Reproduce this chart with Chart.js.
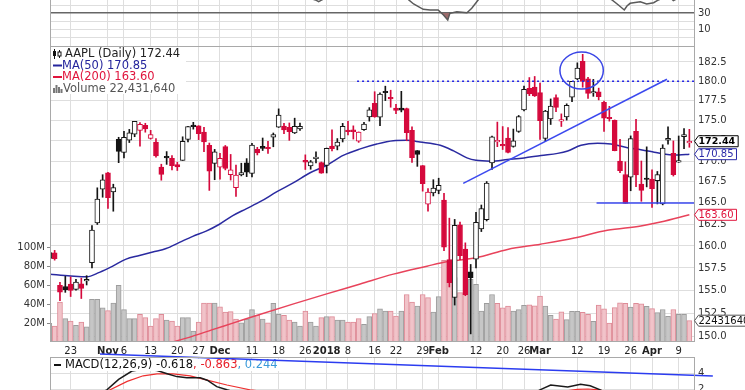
<!DOCTYPE html>
<html>
<head>
<meta charset="utf-8">
<script src="https://cdn.jsdelivr.net/npm/chart.js@4.4.1/dist/chart.umd.min.js"></script>
<style>
  html, body { margin: 0; padding: 0; background: #fff; }
  #wrap { position: relative; width: 745px; height: 390px; overflow: hidden; background: #fff; }
  #wrap canvas { position: absolute; left: 0; }
</style>
</head>
<body>
<div id="wrap">
  <canvas id="rsiChart" width="745" height="46" style="top:0"></canvas>
  <canvas id="priceChart" width="745" height="311" style="top:46px"></canvas>
  <canvas id="macdChart" width="745" height="48" style="top:342px"></canvas>
</div>
<script>
// trading days shown (Oct 17 2017 - Apr 11 2018)
const dates = [
  '2017-10-17','2017-10-18','2017-10-19','2017-10-20','2017-10-23','2017-10-24','2017-10-25','2017-10-26','2017-10-27','2017-10-30','2017-10-31',
  '2017-11-01','2017-11-02','2017-11-03','2017-11-06','2017-11-07','2017-11-08','2017-11-09','2017-11-10','2017-11-13','2017-11-14','2017-11-15',
  '2017-11-16','2017-11-17','2017-11-20','2017-11-21','2017-11-22','2017-11-24','2017-11-27','2017-11-28','2017-11-29','2017-11-30',
  '2017-12-01','2017-12-04','2017-12-05','2017-12-06','2017-12-07','2017-12-08','2017-12-11','2017-12-12','2017-12-13','2017-12-14','2017-12-15',
  '2017-12-18','2017-12-19','2017-12-20','2017-12-21','2017-12-22','2017-12-26','2017-12-27','2017-12-28','2017-12-29',
  '2018-01-02','2018-01-03','2018-01-04','2018-01-05','2018-01-08','2018-01-09','2018-01-10','2018-01-11','2018-01-12','2018-01-16','2018-01-17',
  '2018-01-18','2018-01-19','2018-01-22','2018-01-23','2018-01-24','2018-01-25','2018-01-26','2018-01-29','2018-01-30','2018-01-31',
  '2018-02-01','2018-02-02','2018-02-05','2018-02-06','2018-02-07','2018-02-08','2018-02-09','2018-02-12','2018-02-13','2018-02-14','2018-02-15',
  '2018-02-16','2018-02-20','2018-02-21','2018-02-22','2018-02-23','2018-02-26','2018-02-27','2018-02-28',
  '2018-03-01','2018-03-02','2018-03-05','2018-03-06','2018-03-07','2018-03-08','2018-03-09','2018-03-12','2018-03-13','2018-03-14','2018-03-15',
  '2018-03-16','2018-03-19','2018-03-20','2018-03-21','2018-03-22','2018-03-23','2018-03-26','2018-03-27','2018-03-28','2018-03-29',
  '2018-04-02','2018-04-03','2018-04-04','2018-04-05','2018-04-06','2018-04-09','2018-04-10','2018-04-11'
];

const opens = [
  158.56,159.20,155.56,155.42,155.69,155.10,155.71,156.03,158.08,162.64,166.62,168.58,166.30,172.67,171.06,172.58,173.33,173.78,174.40,172.80,
  172.34,169.28,170.49,170.35,169.60,170.09,172.66,174.39,174.34,173.59,171.93,169.74,169.26,171.78,168.37,166.82,168.34,169.80,168.51,171.45,
  171.80,171.70,172.93,174.17,174.32,174.16,173.46,173.97,170.11,169.41,170.31,169.83,169.47,171.83,171.84,172.74,173.64,173.84,172.46,173.88,
  175.46,177.18,175.43,178.64,177.88,176.58,176.58,176.53,173.80,171.30,169.47,164.86,166.19,166.49,165.33,158.45,154.20,162.43,159.64,157.07,
  158.50,161.95,163.04,169.79,172.36,172.05,172.83,171.80,173.67,176.35,179.10,179.26,178.54,172.80,175.21,177.91,174.94,175.48,177.96,180.29,
  182.59,180.32,178.50,178.65,177.32,175.24,175.04,170.00,168.39,168.07,173.68,167.25,167.81,167.85,167.64,164.88,172.58,170.97,169.88,173.00,
  172.23
];
const highs = [
  159.64,159.49,155.88,156.55,156.49,156.22,156.35,156.63,162.35,166.79,168.36,168.65,167.22,172.93,173.66,173.91,174.90,174.76,174.67,173.79,
  172.78,169.63,171.17,170.69,169.87,172.99,174.29,174.79,174.37,174.16,172.22,171.44,170.97,171.92,170.82,169.51,169.75,170.31,172.19,171.69,
  172.84,172.43,173.46,176.48,174.68,174.71,175.31,174.71,170.77,170.09,171.15,169.90,171.60,173.84,172.77,174.66,174.90,174.35,173.59,174.78,
  176.64,178.66,178.52,179.37,178.85,177.06,178.71,176.58,174.24,171.30,169.47,166.69,167.76,167.94,166.12,163.21,163.06,162.74,160.35,157.89,
  163.89,164.75,167.54,173.09,174.82,174.26,174.12,173.95,175.65,179.39,180.48,180.62,179.78,176.30,177.74,178.25,175.85,177.12,180.00,182.39,
  183.50,180.52,180.24,179.12,177.47,176.80,175.09,172.68,169.92,173.10,175.15,170.02,171.75,168.94,168.75,172.01,174.23,172.48,173.09,174.00,
  173.92
];
const lows = [
  158.02,158.38,153.84,154.77,154.31,155.01,154.09,155.59,157.49,162.47,165.67,164.35,164.02,169.82,170.41,172.28,173.00,171.82,173.56,172.70,
  170.49,167.70,169.61,168.95,168.87,170.09,172.35,173.94,172.64,171.16,166.48,167.76,167.82,168.94,167.72,165.78,168.22,168.13,168.10,170.76,
  171.30,170.95,171.76,174.15,173.38,172.55,173.39,173.79,168.99,169.02,169.79,168.53,168.57,171.26,171.38,172.35,173.22,172.71,172.30,173.78,
  174.94,175.42,174.36,177.53,176.69,175.88,176.10,172.50,169.84,169.37,166.39,164.03,165.82,166.08,159.45,155.37,153.37,158.42,154.40,150.24,
  157.51,161.65,162.88,169.00,171.77,171.42,171.01,171.71,173.54,176.21,178.16,178.05,172.66,172.45,174.52,176.13,174.27,175.07,177.39,180.21,
  179.24,177.81,178.07,177.62,173.66,174.94,171.26,168.60,164.94,166.44,166.92,165.19,166.90,164.47,164.88,164.77,172.08,168.20,169.85,171.53,
  171.70
];
const closes = [
  159.25,158.54,154.79,155.06,154.98,155.90,155.22,156.21,161.81,165.45,167.75,165.62,166.83,171.19,172.92,173.48,174.90,174.54,173.96,173.26,
  170.64,168.39,170.41,169.46,169.29,172.44,174.25,174.26,173.38,172.37,168.79,171.15,170.36,169.11,168.95,168.32,168.63,168.68,171.97,171.00,
  171.57,171.52,173.26,175.70,173.83,173.64,174.30,174.30,169.88,169.91,170.39,168.54,171.56,171.53,172.33,174.29,173.64,173.62,173.58,174.57,
  176.37,175.47,178.37,178.53,177.74,176.28,176.32,173.51,170.42,170.81,167.28,166.29,166.75,167.10,159.85,155.85,162.37,158.89,154.52,156.41,
  162.71,164.34,167.37,172.99,172.43,171.85,171.07,172.50,175.50,178.97,178.39,178.12,175.00,176.21,176.82,176.67,175.03,176.94,179.98,181.72,
  179.97,178.44,178.65,178.02,175.30,175.24,171.27,168.85,164.94,172.77,168.34,166.48,167.78,166.68,168.39,171.61,172.80,168.38,170.05,173.25,
  172.44
];
const prevClose = 158.66;

// volume in millions of shares
const volumes = [
  19.6,16.8,42.0,24.6,22.0,17.5,21.0,16.0,45.0,45.0,36.0,33.0,41.0,59.7,34.0,24.6,24.6,29.0,25.6,16.8,
  24.6,29.0,23.0,22.0,16.8,25.6,25.6,11.6,21.0,41.0,41.0,41.0,37.0,31.6,32.0,24.0,20.3,24.0,34.0,28.0,
  24.0,20.3,40.7,29.0,28.0,23.0,21.0,16.8,32.6,21.0,16.8,25.6,26.7,26.7,23.0,23.0,21.0,21.0,24.6,18.6,
  26.7,30.0,35.0,32.6,32.6,27.4,32.6,50.0,42.0,37.9,50.0,46.7,31.6,47.7,86.0,86.0,67.7,52.0,52.0,66.0,
  60.7,32.6,40.7,50.0,40.7,36.0,37.9,32.6,34.0,38.6,39.0,38.0,48.4,37.9,28.2,24.0,31.8,23.5,32.2,32.2,
  31.2,29.2,21.8,38.8,34.8,20.0,36.2,41.2,40.8,36.8,40.7,40.2,37.5,35.2,30.9,34.2,27.0,34.2,29.2,29.2,
  22.43
];
const lastVolume = 22431640;

// moving averages: [bar index, price]
const ma50 = [
  [0,156.8],[4,156.6],[7,156.5],[9.4,157.0],[11.9,157.7],[14.4,158.5],[16.9,158.9],[19.4,159.3],[21.9,159.7],[24.4,160.4],
  [26.9,161.1],[29.4,161.7],[31.9,162.5],[34.4,163.5],[36.9,164.3],[39.7,165.2],[42.6,166.3],[45.8,167.4],[48.9,168.6],[52,169.5],
  [55.1,170.7],[58.3,171.5],[61.4,172.1],[64.5,172.5],[67,172.55],[69.5,172.35],[73.3,171.95],[75.8,171.25],[78.3,170.4],[80,170.1],
  [82.8,170.0],[85.9,170.2],[89,170.4],[92.2,170.7],[95.3,170.95],[97.2,171.25],[99.7,171.95],[102.8,172.2],[105.3,172.1],[108.4,171.65],
  [110.9,171.4],[113.4,171.1],[115.9,170.8],[118,170.75],[120,170.85]
];
const ma200 = [
  [20,148.8],[23.4,149.4],[26.9,150.0],[30.6,150.7],[34.4,151.4],[38.1,152.1],[45.8,153.5],[52,154.6],[58.3,155.7],[64.5,156.8],
  [70.8,157.7],[74.5,158.2],[80,158.65],[85.9,159.6],[92.1,160.2],[98.4,160.9],[104.6,161.8],[110.9,162.3],[114.6,162.75],[120,163.6]
];
const rsi = [
  [0,50],[4,49],[8,64],[10,70],[14,76],[18,70],[21,57],[25,62],[28,62],[30,53],[33,50],[36,49],[38,57],[43,64],[46,60],[48,50],
  [49.9,46.3],[50.5,44.2],[51.1,46.3],[53,54],[56,56],[60,64],[63,68],[65,60],[66.5,52],[67.4,46.3],[68.3,41.3],[70.1,34.6],
  [71.4,33.8],[72.9,33.8],[73.9,27.5],[74.7,21.3],[75.1,29.6],[76.4,31.6],[78.3,30.4],[79.2,35.9],[80.4,46.3],[82,56],[85,58],
  [89,66],[92,58],[95,60],[99,68],[101,62],[104,52],[105.5,46.3],[106.7,40],[107.8,33.8],[108.3,38.8],[108.9,42.1],[110.8,44.1],
  [112,41.3],[113.3,42.9],[114.2,46.3],[116,52],[117,45.5],[118,49],[120,53]
];
const macdLine = [
  [0,0.6],[5,0.3],[8,0.9],[10.8,1.9],[13,3.2],[15.5,4.25],[17.8,4.5],[20.2,4.3],[22.1,3.9],[23.9,3.55],[25.8,3.4],[28.3,3.4],
  [29.6,3.1],[31.4,2.3],[33.3,1.9],[36,1.4],[42,1.1],[50,0.6],[58,1.2],[64,1.7],[70,0.4],[76,-2.6],[80,-3.4],[86,-0.5],[92,1.9],
  [94,2.5],[97.2,2.25],[99.6,2.6],[101.4,2.4],[103.3,1.9],[107,0.4],[112,-1.3],[116,-1.1],[120,-0.618]
];
const macdSignal = [
  [0,0.4],[8,0.5],[11.4,1.9],[14.6,2.95],[17.6,3.65],[20.2,3.9],[23.2,3.9],[26.4,3.65],[29.6,3.1],[33.3,2.5],[37.6,1.9],[45,1.3],
  [55,1.0],[65,1.4],[72,0.8],[80,-1.9],[88,-0.8],[95,1.6],[99,1.95],[101,2.0],[103,1.9],[108,1.2],[114,-0.2],[120,-0.863]
];
const macdHist = 0.244;

// drawn annotations: [bar index, value]
const trendUp = [[77.6,167.33],[115.8,180.26]];
const support = [[102.6,165],[121.5,165]];
const resistance = [[57.7,180],[121.5,180]];
const macdTrend = [[9.5,6.375],[124.4,3.625]];
const circleCenter = 99.8, circleHalfBars = 4.07, circleSpan = [179.0, 183.8];

const tickDates = ['2017-10-23','2017-11-01','2017-11-06','2017-11-13','2017-11-20','2017-11-27','2017-12-01','2017-12-11','2017-12-18',
  '2017-12-26','2018-01-02','2018-01-08','2018-01-16','2018-01-22','2018-01-29','2018-02-01','2018-02-12','2018-02-20','2018-02-26',
  '2018-03-01','2018-03-12','2018-03-19','2018-03-26','2018-04-02','2018-04-09'];
const tickText = ['23','Nov','6','13','20','27','Dec','11','18','26','2018','8','16','22','29','Feb','12','20','26','Mar','12','19','26','Apr','9'];
const monthTicks = ['Nov','Dec','2018','Feb','Mar','Apr'];
const priceTicks = [150,152.5,155,157.5,160,162.5,165,167.5,170,172.5,175,177.5,180,182.5];
const volumeTicks = [20,40,60,80,100];
const rsiTicks = [0,10,20,30,40];
const macdTicks = [2,4];

Chart.defaults.font.family = "'DejaVu Sans', sans-serif";
Chart.defaults.animation = false;

const RED = '#d5093c', BLACK = '#141414', GRID = '#dedede', FRAME = '#a9a9a9';
const FONT = '11.5px "DejaVu Sans"';
const isDown = closes.map((c, i) => c < (i ? closes[i - 1] : prevClose));
const candleColor = isDown.map(d => d ? RED : BLACK);
const bodyFill = closes.map((c, i) => c > opens[i] ? '#ffffff' : candleColor[i]);
const tickIdx = tickDates.map(d => dates.indexOf(d));
const pts = arr => arr.map(([x, y]) => ({ x, y }));

function xAxis(showLabels) {
  return {
    type: 'linear', min: 0.13, max: 120.87, offset: false,
    afterBuildTicks: ax => { ax.ticks = tickIdx.map(v => ({ value: v })); },
    afterFit: ax => { ax.height = showLabels ? 15 : 0; ax.paddingLeft = 0; ax.paddingRight = 0; },
    grid: { color: GRID, drawTicks: false, offset: false },
    border: { display: false },
    ticks: {
      display: showLabels, autoSkip: false, maxRotation: 0, padding: 3, color: '#222',
      font: c => ({ size: 10, weight: monthTicks.includes(tickText[c.index]) ? 'bold' : 'normal' }),
      callback: (v, i) => tickText[i]
    }
  };
}

function rightAxis(extra) {
  return Object.assign({
    position: 'right',
    afterFit: ax => { ax.width = 51; ax.paddingTop = 0; ax.paddingBottom = 0; },
    grid: { color: GRID, drawTicks: false },
    border: { display: false }
  }, extra);
}

function frame(sides) {
  return {
    id: 'frame',
    afterDraw(chart) {
      const a = chart.chartArea, c = chart.ctx;
      c.save();
      c.strokeStyle = FRAME; c.lineWidth = 1;
      c.beginPath();
      if (sides.includes('t')) { c.moveTo(a.left, a.top + 0.5); c.lineTo(a.right + 1, a.top + 0.5); }
      if (sides.includes('b')) { c.moveTo(a.left, a.bottom - 0.5); c.lineTo(a.right + 1, a.bottom - 0.5); }
      c.moveTo(a.left + 0.5, a.top); c.lineTo(a.left + 0.5, a.bottom);
      c.moveTo(a.right + 0.5, a.top); c.lineTo(a.right + 0.5, a.bottom);
      c.stroke();
      c.restore();
    }
  };
}

function valueTag(ctx, x, y, text, border, color, bold) {
  ctx.font = (bold ? 'bold 9.5px' : '10px') + ' "DejaVu Sans"';
  const w = ctx.measureText(text).width;
  ctx.beginPath();
  ctx.moveTo(x, y);
  ctx.lineTo(x + 4, y - 5.5);
  ctx.lineTo(x + 7 + w, y - 5.5);
  ctx.lineTo(x + 7 + w, y + 5.5);
  ctx.lineTo(x + 4, y + 5.5);
  ctx.closePath();
  ctx.fillStyle = '#fff'; ctx.fill();
  ctx.strokeStyle = border; ctx.lineWidth = 1; ctx.stroke();
  ctx.fillStyle = color; ctx.textBaseline = 'middle'; ctx.textAlign = 'left';
  ctx.fillText(text, x + 4, y + 0.5);
}

const priceOverlay = {
  id: 'priceOverlay',
  afterDatasetsDraw(chart) {
    const { ctx, scales: { x, y } } = chart;
    const cx = x.getPixelForValue(circleCenter);
    const rx = x.getPixelForValue(circleCenter + circleHalfBars) - cx;
    const top = y.getPixelForValue(circleSpan[1]), bot = y.getPixelForValue(circleSpan[0]);
    ctx.save();
    ctx.strokeStyle = '#3a46e6'; ctx.lineWidth = 1.5;
    ctx.beginPath();
    ctx.ellipse(cx, (top + bot) / 2, rx, (bot - top) / 2, 0, 0, Math.PI * 2);
    ctx.stroke();
    ctx.restore();
  },
  afterDraw(chart) {
    const { ctx, scales: { y, yv } } = chart;
    const lastClose = closes[closes.length - 1];
    const last50 = ma50[ma50.length - 1][1], last200 = ma200[ma200.length - 1][1];
    ctx.save();
    // legend box
    ctx.fillStyle = '#fff';
    ctx.fillRect(51, 1, 135, 47);
    // candle icon
    ctx.strokeStyle = '#111'; ctx.fillStyle = '#111'; ctx.lineWidth = 1;
    ctx.beginPath(); ctx.moveTo(54.5, 3); ctx.lineTo(54.5, 13); ctx.moveTo(59.5, 4); ctx.lineTo(59.5, 12); ctx.stroke();
    ctx.fillRect(53, 5, 3, 5);
    ctx.fillStyle = '#fff'; ctx.fillRect(58, 6, 3, 4); ctx.strokeRect(58, 6, 3, 4);
    ctx.font = FONT; ctx.textBaseline = 'middle'; ctx.textAlign = 'left';
    ctx.fillStyle = '#222';
    ctx.fillText('AAPL (Daily) ' + lastClose.toFixed(2), 65, 8.5);
    // MA legends
    ctx.lineWidth = 2;
    ctx.strokeStyle = '#24249c';
    ctx.beginPath(); ctx.moveTo(53, 19.5); ctx.lineTo(62, 19.5); ctx.stroke();
    ctx.fillStyle = '#24249c';
    ctx.fillText('MA(50) ' + last50.toFixed(2), 62, 20);
    ctx.strokeStyle = '#e0143c';
    ctx.beginPath(); ctx.moveTo(53, 31); ctx.lineTo(62, 31); ctx.stroke();
    ctx.fillStyle = '#e0143c';
    ctx.fillText('MA(200) ' + last200.toFixed(2), 62, 31.5);
    // volume icon
    ctx.fillStyle = '#777';
    [[53, 5], [55.5, 8], [58, 6], [60.5, 4]].forEach(([bx, h]) => ctx.fillRect(bx, 47 - h, 2, h));
    ctx.fillStyle = '#555';
    ctx.fillText('Volume ' + lastVolume.toLocaleString('en-US'), 63, 43);
    // right side value tags
    valueTag(ctx, 694.5, y.getPixelForValue(lastClose), lastClose.toFixed(2), '#000', '#000', true);
    valueTag(ctx, 694.5, y.getPixelForValue(last50), last50.toFixed(2), '#2a2aa8', '#2a2aa8', false);
    valueTag(ctx, 694.5, y.getPixelForValue(last200), last200.toFixed(2), '#e0143c', '#e0143c', false);
    valueTag(ctx, 694.5, yv.getPixelForValue(volumes[volumes.length - 1]), String(lastVolume), '#555', '#111', false);
    ctx.restore();
  }
};

const lineStyle = (color, width, order) => ({
  type: 'line', yAxisID: 'y', order, borderColor: color, borderWidth: width,
  pointRadius: 0, fill: false
});

new Chart(document.getElementById('priceChart'), {
  type: 'bar',
  data: {
    datasets: [
      {
        type: 'bar', label: 'Volume', yAxisID: 'yv', order: 10, grouped: false, barThickness: 5,
        data: volumes.map((v, i) => ({ x: i, y: v })),
        backgroundColor: isDown.map(d => d ? '#f1c3c9' : '#c6c6c6'),
        borderColor: isDown.map(d => d ? '#de8b97' : '#9d9d9d'),
        borderWidth: 1
      },
      Object.assign(lineStyle('#e8435b', 1.5, 7), { label: 'MA(200)', data: pts(ma200), cubicInterpolationMode: 'monotone' }),
      Object.assign(lineStyle('#2a2aa0', 1.5, 6), { label: 'MA(50)', data: pts(ma50), cubicInterpolationMode: 'monotone' }),
      {
        type: 'bar', label: 'Range', yAxisID: 'y', order: 4, grouped: false, barThickness: 1,
        data: highs.map((h, i) => ({ x: i, y: [lows[i], h] })),
        backgroundColor: candleColor, borderWidth: 0
      },
      {
        type: 'bar', label: 'AAPL', yAxisID: 'y', order: 3, grouped: false, barThickness: 5, minBarLength: 1.5,
        data: opens.map((o, i) => ({ x: i, y: [Math.min(o, closes[i]), Math.max(o, closes[i])] })),
        backgroundColor: bodyFill, borderColor: candleColor, borderWidth: 1, borderSkipped: false
      },
      Object.assign(lineStyle('#3b49ef', 1.5, 1), { label: 'Trend', data: pts(trendUp) }),
      Object.assign(lineStyle('#3b49ef', 1.5, 1), { label: 'Support', data: pts(support) }),
      Object.assign(lineStyle('#2323e6', 1.5, 1), { label: 'Resistance', data: pts(resistance), borderDash: [2, 3] })
    ]
  },
  options: {
    responsive: false, maintainAspectRatio: false, events: [],
    plugins: { legend: { display: false }, tooltip: { enabled: false } },
    scales: {
      x: xAxis(true),
      y: rightAxis({
        type: 'logarithmic', min: 149.37, max: 184.6,
        afterBuildTicks: ax => { ax.ticks = priceTicks.map(v => ({ value: v })); },
        ticks: { autoSkip: false, padding: 4, color: '#333', font: { size: 10 }, callback: v => Number(v).toFixed(1) }
      }),
      yv: {
        type: 'linear', position: 'left', min: 0, max: 311.6,
        afterBuildTicks: ax => { ax.ticks = volumeTicks.map(v => ({ value: v })); },
        afterFit: ax => { ax.width = 50; ax.paddingTop = 0; ax.paddingBottom = 0; },
        grid: { drawOnChartArea: false, drawTicks: true, tickLength: 3, color: '#888' },
        border: { display: false },
        ticks: { autoSkip: false, padding: 2, color: '#333', font: { size: 10 }, callback: v => v + 'M' }
      }
    }
  },
  plugins: [frame('tb'), priceOverlay]
});

new Chart(document.getElementById('rsiChart'), {
  type: 'line',
  data: {
    datasets: [{
      label: 'RSI', data: pts(rsi), borderColor: '#5a5a5a', borderWidth: 1.5, pointRadius: 0,
      fill: { target: { value: 30 }, above: 'rgba(0,0,0,0)', below: '#9c6b6b' }
    }]
  },
  options: {
    responsive: false, maintainAspectRatio: false, events: [],
    layout: { padding: { left: 50 } },
    plugins: { legend: { display: false }, tooltip: { enabled: false } },
    scales: {
      x: xAxis(false),
      y: rightAxis({
        type: 'linear', min: -11.25, max: 46.25,
        afterBuildTicks: ax => { ax.ticks = rsiTicks.map(v => ({ value: v })); },
        grid: {
          drawTicks: false,
          color: c => c.tick && c.tick.value === 30 ? '#666' : GRID,
          lineWidth: c => c.tick && c.tick.value === 30 ? 1.5 : 1
        },
        ticks: { autoSkip: false, padding: 4, color: '#333', font: { size: 10 },
          callback: v => (v === 30 || v === 10) ? String(v) : '' }
      })
    }
  },
  plugins: [frame('')]
});

const macdLabel = {
  id: 'macdLabel',
  afterDatasetDraw(chart, args) {
    if (args.index !== 1) return;
    const ctx = chart.ctx;
    const parts = [
      ['MACD(12,26,9) ' + macdLine[macdLine.length - 1][1].toFixed(3), '#111'],
      [', ' + macdSignal[macdSignal.length - 1][1].toFixed(3), '#e8202a'],
      [', ' + macdHist.toFixed(3), '#3a9ad9']
    ];
    ctx.save();
    ctx.font = FONT; ctx.textBaseline = 'middle'; ctx.textAlign = 'left';
    const total = parts.reduce((s, p) => s + ctx.measureText(p[0]).width, 0);
    ctx.fillStyle = '#fff';
    ctx.fillRect(51, 17, 14 + total + 3, 12);
    ctx.strokeStyle = '#111'; ctx.lineWidth = 2;
    ctx.beginPath(); ctx.moveTo(54, 23); ctx.lineTo(61, 23); ctx.stroke();
    let x = 65;
    parts.forEach(([t, c]) => { ctx.fillStyle = c; ctx.fillText(t, x, 23.5); x += ctx.measureText(t).width; });
    ctx.restore();
  }
};

new Chart(document.getElementById('macdChart'), {
  type: 'line',
  data: {
    datasets: [
      { label: 'Trend', data: pts(macdTrend), borderColor: '#2b3cf0', borderWidth: 1.5, pointRadius: 0, order: 0, clip: false },
      { label: 'MACD', data: pts(macdLine), borderColor: '#1a1a1a', borderWidth: 1.5, pointRadius: 0, order: 1 },
      { label: 'Signal', data: pts(macdSignal), borderColor: '#ee3030', borderWidth: 1.2, pointRadius: 0, order: 2 }
    ]
  },
  options: {
    responsive: false, maintainAspectRatio: false, events: [],
    layout: { padding: { left: 50, top: 15 } },
    plugins: { legend: { display: false }, tooltip: { enabled: false } },
    scales: {
      x: xAxis(false),
      y: rightAxis({
        type: 'linear', min: 1.875, max: 6,
        afterBuildTicks: ax => { ax.ticks = macdTicks.map(v => ({ value: v })); },
        ticks: { autoSkip: false, padding: 4, color: '#333', font: { size: 10 }, callback: v => String(v) }
      })
    }
  },
  plugins: [frame('t'), macdLabel]
});
</script>
</body>
</html>
